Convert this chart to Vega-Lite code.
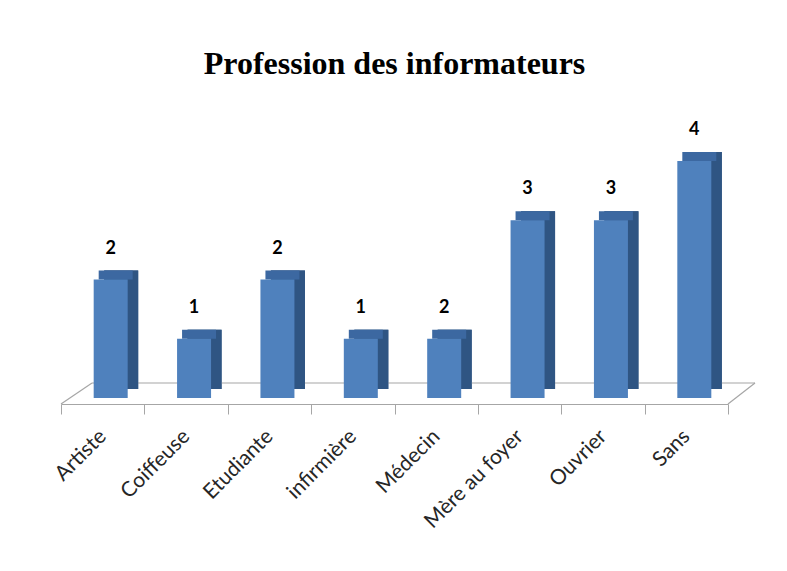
{
  "$schema": "https://vega.github.io/schema/vega-lite/v6.json",
  "width": 667,
  "height": 237,
  "autosize": {"type": "none"},
  "padding": {"left": 61, "top": 161, "right": 59, "bottom": 173},
  "background": "white",
  "title": {
    "text": "Profession des informateurs",
    "font": "Liberation Serif",
    "fontSize": 32,
    "fontWeight": "bold",
    "color": "black",
    "anchor": "middle",
    "offset": 40
  },
  "data": {
    "values": [
      {"profession": "Artiste", "n": 2, "label": "2"},
      {"profession": "Coiffeuse", "n": 1, "label": "1"},
      {"profession": "Etudiante", "n": 2, "label": "2"},
      {"profession": "infirmière", "n": 1, "label": "1"},
      {"profession": "Médecin", "n": 1, "label": "2"},
      {"profession": "Mère au foyer", "n": 3, "label": "3"},
      {"profession": "Ouvrier", "n": 3, "label": "3"},
      {"profession": "Sans", "n": 4, "label": "4"}
    ]
  },
  "layer": [
    {
      "mark": {"type": "bar", "width": 34, "color": "#2f5583", "xOffset": 18.5, "x2Offset": 18.5, "yOffset": -9, "y2Offset": -9},
      "encoding": {
        "x": {"field": "profession", "type": "nominal", "sort": null,
              "scale": {"domain": ["Artiste", "Coiffeuse", "Etudiante", "infirmière", "Médecin", "Mère au foyer", "Ouvrier", "Sans"]}},
        "y": {"field": "n", "type": "quantitative", "scale": {"domain": [0, 4], "nice": false}, "axis": null}
      }
    },
    {
      "transform": [{"filter": "datum.profession === 'Artiste'"}],
      "mark": {"type": "rule", "color": "#a6a6a6", "strokeWidth": 1.2, "xOffset": 31, "x2Offset": 27, "yOffset": -15, "y2Offset": -15},
      "encoding": {
        "x": {"datum": "Artiste", "type": "nominal", "bandPosition": 0},
        "x2": {"datum": "Sans", "bandPosition": 1},
        "y": {"datum": 0, "type": "quantitative"},
        "y2": {"datum": 0}
      }
    },
    {
      "transform": [{"filter": "datum.profession === 'Artiste'"}],
      "mark": {"type": "rule", "color": "#a6a6a6", "strokeWidth": 1.2, "x2Offset": 31, "yOffset": 6, "y2Offset": -15},
      "encoding": {
        "x": {"datum": "Artiste", "type": "nominal", "bandPosition": 0},
        "x2": {"datum": "Artiste", "bandPosition": 0},
        "y": {"datum": 0, "type": "quantitative"},
        "y2": {"datum": 0}
      }
    },
    {
      "transform": [{"filter": "datum.profession === 'Artiste'"}],
      "mark": {"type": "rule", "color": "#a6a6a6", "strokeWidth": 1.2, "x2Offset": 27, "yOffset": 6, "y2Offset": -15},
      "encoding": {
        "x": {"datum": "Sans", "type": "nominal", "bandPosition": 1},
        "x2": {"datum": "Sans", "bandPosition": 1},
        "y": {"datum": 0, "type": "quantitative"},
        "y2": {"datum": 0}
      }
    },
    {
      "mark": {"type": "bar", "width": 34, "color": "#2f5583", "xOffset": 18.5, "x2Offset": 18.5, "yOffset": -9, "y2Offset": -9},
      "encoding": {
        "x": {"field": "profession", "type": "nominal", "sort": null},
        "y": {"field": "n", "type": "quantitative"}
      }
    },
    {
      "mark": {"type": "bar", "width": 34, "color": "#3c68a1", "xOffset": 13, "x2Offset": 13, "yOffset": -9},
      "encoding": {
        "x": {"field": "profession", "type": "nominal", "sort": null},
        "y": {"field": "n", "type": "quantitative"},
        "y2": {"field": "n"}
      }
    },
    {
      "mark": {"type": "bar", "width": 34, "color": "#4f81bd", "xOffset": 8, "x2Offset": 8},
      "encoding": {
        "x": {"field": "profession", "type": "nominal", "sort": null},
        "y": {"field": "n", "type": "quantitative"}
      }
    },
    {
      "mark": {"type": "text", "font": "Lato", "fontWeight": "bold", "fontSize": 18, "color": "black", "dx": 8, "dy": -26, "baseline": "alphabetic"},
      "encoding": {
        "x": {"field": "profession", "type": "nominal", "sort": null},
        "y": {"field": "n", "type": "quantitative"},
        "text": {"field": "label"}
      }
    }
  ],
  "config": {
    "view": {"stroke": null},
    "scale": {"bandPaddingInner": 0, "bandPaddingOuter": 0},
    "axisX": {
      "title": null,
      "labelAngle": -45,
      "labelAlign": "right",
      "labelBaseline": "middle",
      "labelFont": "Lato",
      "labelFontSize": 21,
      "labelColor": "#262626",
      "domainColor": "#a6a6a6",
      "tickColor": "#a6a6a6",
      "tickSize": 10,
      "tickBand": "extent",
      "offset": 6,
      "labelPadding": 19,
      "grid": false
    }
  }
}
